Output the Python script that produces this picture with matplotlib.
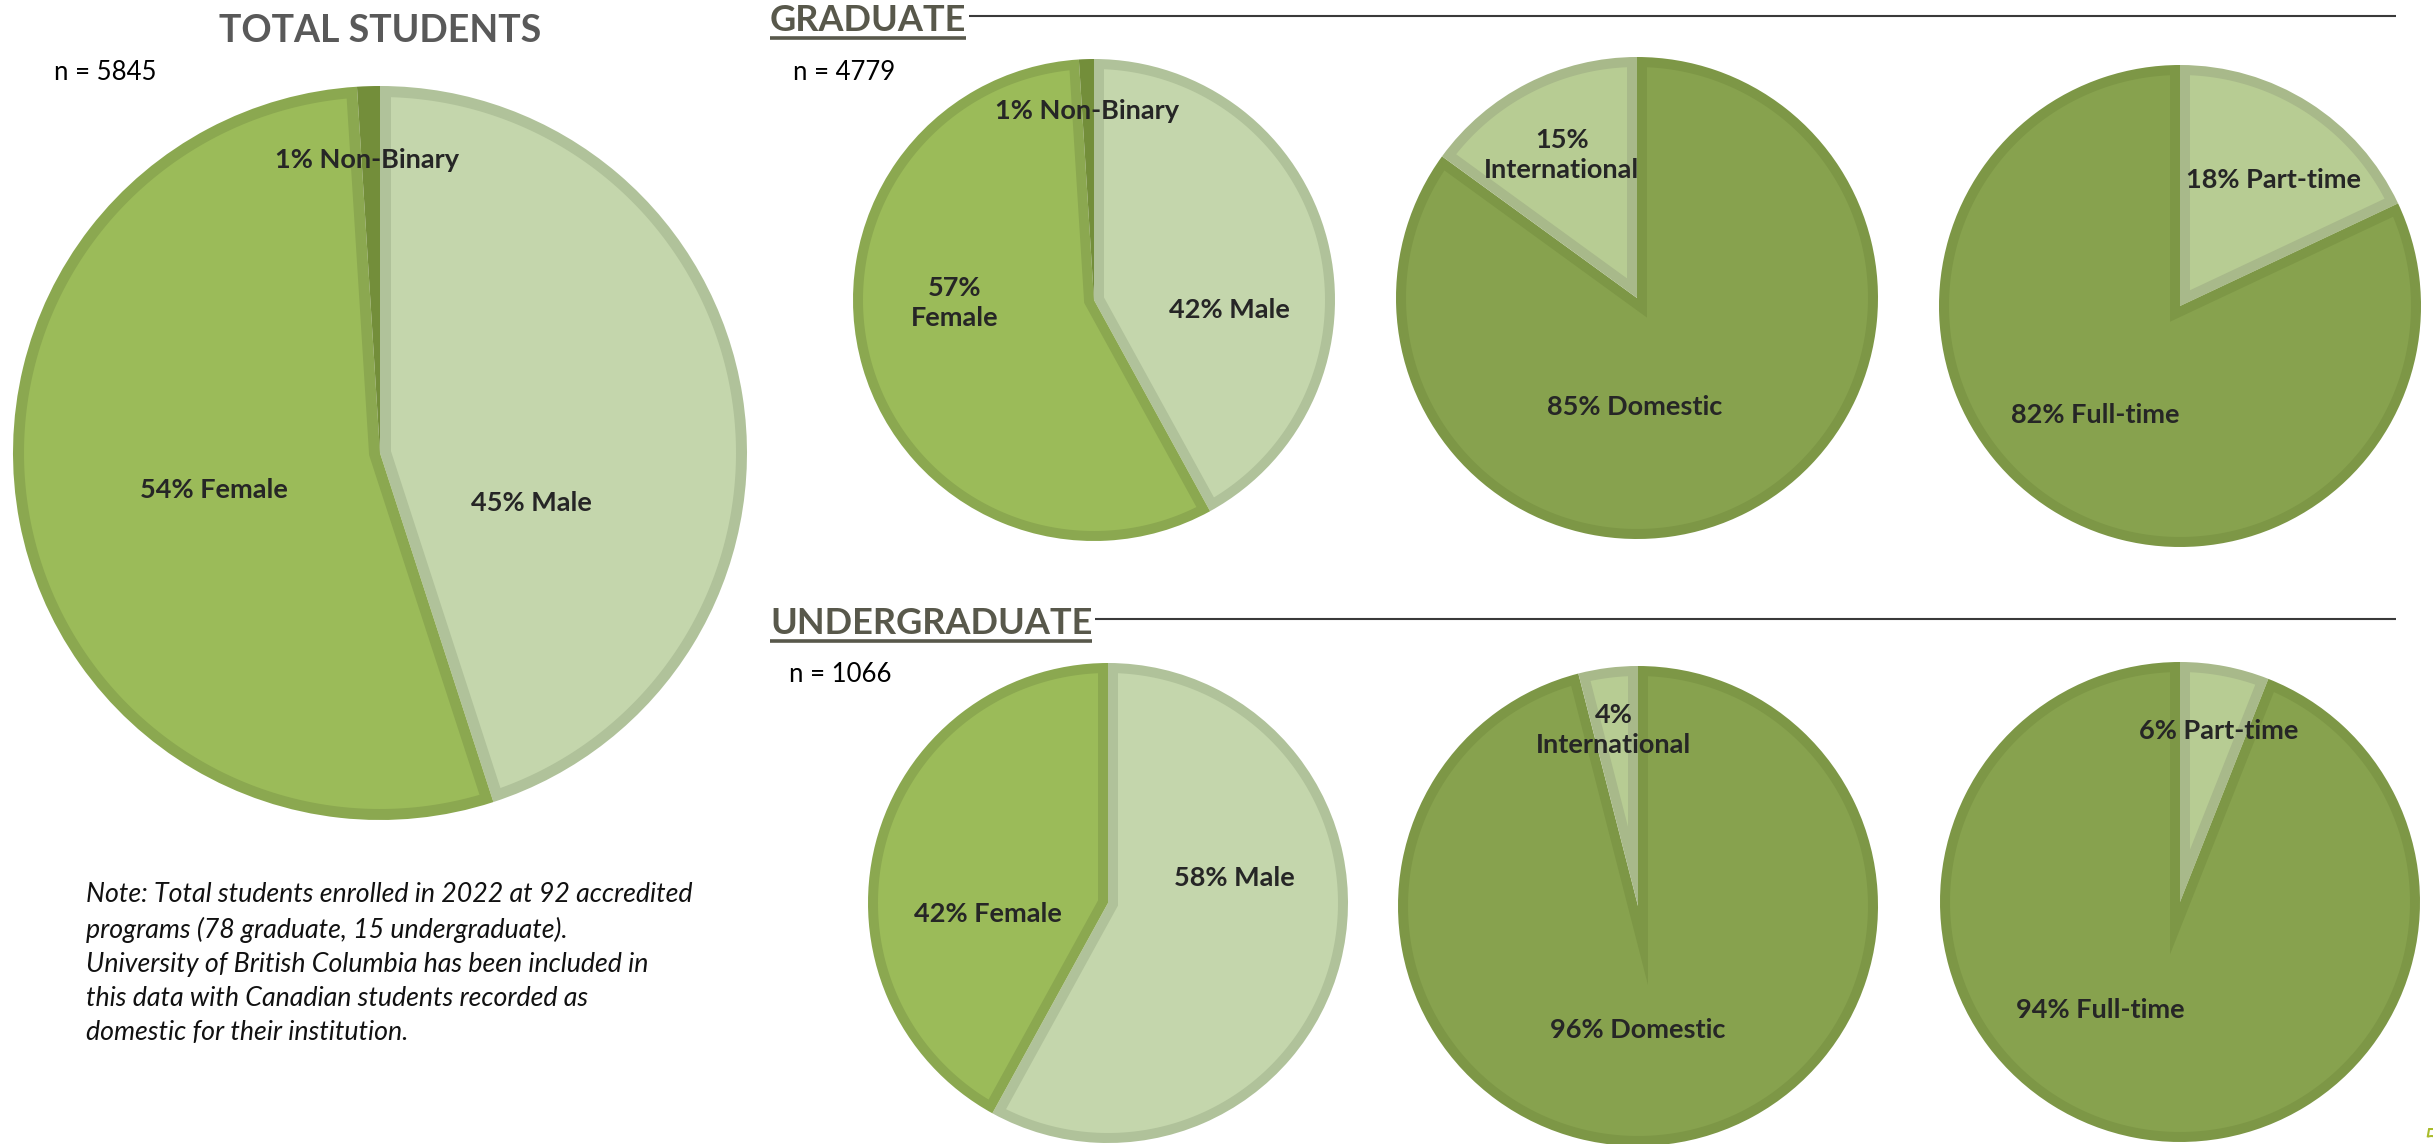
import matplotlib.pyplot as plt
import numpy as np
from matplotlib.patches import Polygon

plt.rcParams['font.family'] = ['Lato', 'DejaVu Sans']

W, H = 2433, 1144

# ---- data ----
total_cats = ['Male', 'Female', 'Non-Binary']
total_pct = [45, 54, 1]
total_n = 5845

grad_gender_cats = ['Male', 'Female', 'Non-Binary']
grad_gender_pct = [42, 57, 1]
grad_res_cats = ['Domestic', 'International']
grad_res_pct = [85, 15]
grad_time_cats = ['Part-time', 'Full-time']
grad_time_pct = [18, 82]
grad_n = 4779

ug_gender_cats = ['Male', 'Female']
ug_gender_pct = [58, 42]
ug_res_cats = ['Domestic', 'International']
ug_res_pct = [96, 4]
ug_time_cats = ['Part-time', 'Full-time']
ug_time_pct = [6, 94]
ug_n = 1066

note = ("Note: Total students enrolled in 2022 at 92 accredited\n"
        "programs (78 graduate, 15 undergraduate).\n"
        "University of British Columbia has been included in\n"
        "this data with Canadian students recorded as\n"
        "domestic for their institution.")

# ---- styles ----
fill = {'Male': '#C4D6AC', 'Female': '#9BBB59', 'Non-Binary': '#76923C',
        'Domestic': '#87A24E', 'International': '#B7CC93',
        'Part-time': '#B7CC93', 'Full-time': '#87A24E'}
edge = {'Male': '#B0C29A', 'Female': '#8BA850', 'Non-Binary': '#738E3A',
        'Domestic': '#7D9746', 'International': '#A8B98A',
        'Part-time': '#A8B98A', 'Full-time': '#7D9746'}
LABEL_COLOR = '#262626'
HEAD_COLOR = '#58584B'


def inset_polygon(wedge, w):
    # Excel-style border: fill shape shrunk inside the wedge by w
    c = np.array(wedge.center)
    R = wedge.r
    t1, t2 = np.deg2rad(wedge.theta1), np.deg2rad(wedge.theta2)
    mid = 0.5 * (t1 + t2)
    d = w / np.sin(0.5 * (t2 - t1))
    r_in = R - w
    if d >= r_in:
        return None
    P = c + d * np.array([np.cos(mid), np.sin(mid)])
    phis = []
    for t in (t1, t2):
        e = np.array([np.cos(t), np.sin(t)])
        v = P - c
        b = v @ e
        s = -b + np.sqrt(b * b - (v @ v - r_in ** 2))
        q = P + s * e - c
        phis.append(np.arctan2(q[1], q[0]))
    p1, p2 = phis
    while p2 <= p1:
        p2 += 2 * np.pi
    arc = np.linspace(p1, p2, 200)
    pts = np.vstack([P, c + r_in * np.column_stack([np.cos(arc), np.sin(arc)])])
    return pts


def draw_pie(ax, cats, pct, center, r, w, label_xy, seps):
    cx, cy = center
    wedges, _ = ax.pie(pct, colors=[edge[c] for c in cats], startangle=90,
                       counterclock=False, center=(cx, H - cy), radius=r,
                       wedgeprops=dict(linewidth=0))
    for wdg, cat in zip(wedges, cats):
        pts = inset_polygon(wdg, w)
        if pts is not None:
            ax.add_patch(Polygon(pts, closed=True, facecolor=fill[cat],
                                 linewidth=0, zorder=wdg.get_zorder() + 0.1))
    for cat, p, (x, y), sep in zip(cats, pct, label_xy, seps):
        ax.text(x, H - y, f"{p}%{sep}{cat}", ha='center', va='center',
                fontsize=19.5, fontweight='bold', color=LABEL_COLOR,
                linespacing=1.3, zorder=5)


fig = plt.figure(figsize=(W / 100, H / 100), dpi=100)
ax = fig.add_axes([0, 0, 1, 1])

# total students
draw_pie(ax, total_cats, total_pct, (380, 453), 367, 11,
         [(531, 503), (214, 490), (367, 160)], [' ', ' ', ' '])

# graduate
draw_pie(ax, grad_gender_cats, grad_gender_pct, (1094, 300), 241, 10,
         [(1229, 310), (955, 303), (1087, 111)], [' ', '\n', ' '])
draw_pie(ax, grad_res_cats, grad_res_pct, (1637, 298), 241, 10,
         [(1635, 407), (1562, 155)], [' ', '\n'])
draw_pie(ax, grad_time_cats, grad_time_pct, (2180, 306), 241, 10,
         [(2273, 180), (2095, 415)], [' ', ' '])

# undergraduate
draw_pie(ax, ug_gender_cats, ug_gender_pct, (1108, 903), 240, 10,
         [(1234, 878), (988, 914)], [' ', ' '])
draw_pie(ax, ug_res_cats, ug_res_pct, (1638, 906), 240, 10,
         [(1638, 1030), (1614, 730)], [' ', '\n'])
draw_pie(ax, ug_time_cats, ug_time_pct, (2180, 902), 240, 10,
         [(2219, 731), (2100, 1010)], [' ', ' '])

ax.set_xlim(0, W)
ax.set_ylim(0, H)
ax.set_aspect('equal')
ax.axis('off')

# titles and headers
ax.text(380, H - 42, 'TOTAL STUDENTS', ha='center', va='baseline',
        fontsize=27, fontweight='bold', color='#595959')

headers = []
for txt, base in [('GRADUATE', 31), ('UNDERGRADUATE', 634)]:
    t = ax.text(770, H - base, txt, ha='left', va='baseline',
                fontsize=26, fontweight='bold', color=HEAD_COLOR)
    headers.append((t, base))

fig.canvas.draw()
renderer = fig.canvas.get_renderer()
inv = ax.transData.inverted()
for t, base in headers:
    bb = t.get_window_extent(renderer)
    x0, _ = inv.transform((bb.x0, bb.y0))
    x1, _ = inv.transform((bb.x1, bb.y0))
    ax.plot([x0, x1], [H - base - 7, H - base - 7], color=HEAD_COLOR,
            lw=2.6, solid_capstyle='butt')
    ax.plot([x1 + 3, 2396], [H - base + 15, H - base + 15], color='#3A3A3A',
            lw=1.5, solid_capstyle='butt')

# n counts
for n, x, base in [(total_n, 54, 80), (grad_n, 793, 80), (ug_n, 789, 682)]:
    ax.text(x, H - base, f"n = {n}", ha='left', va='baseline',
            fontsize=18.5, color='black')

ax.text(86, H - 882, note, ha='left', va='top', fontsize=19.3,
        fontstyle='italic', color='#111111', linespacing=1.45)

# page number
ax.text(2423, H - 1128, '5', ha='left', va='top', fontsize=20,
        color='#A9BC2A')

fig.savefig('out.png', dpi=100)
